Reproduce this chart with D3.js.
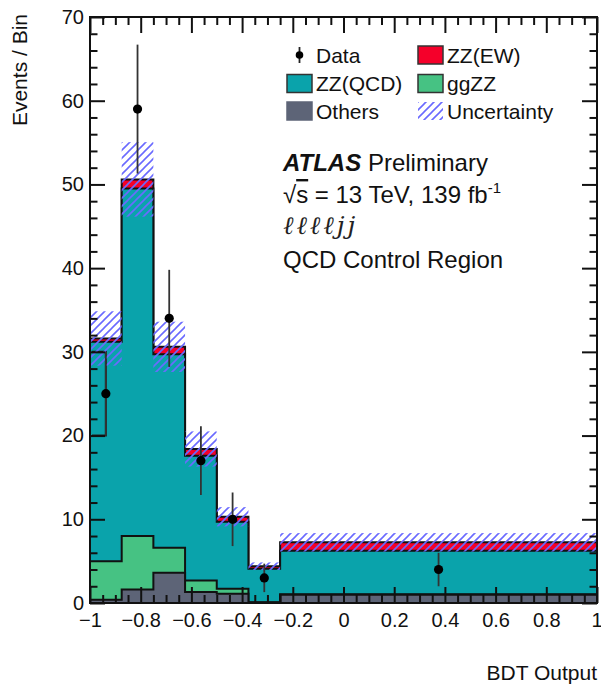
<!DOCTYPE html>
<html>
<head>
<meta charset="utf-8">
<script src="https://cdn.jsdelivr.net/npm/d3@7"></script>
<style>
  body { margin: 0; background: #fff; }
  svg { font-family: "Liberation Sans", Arial, Helvetica, sans-serif; }
</style>
</head>
<body>
<svg id="chart" width="601" height="684"></svg>
<script>
// bins of BDT output
const binEdges = [-1, -0.875, -0.75, -0.625, -0.5, -0.375, -0.25, 1];
// stacked backgrounds, bottom to top
const others = [0.4, 1.6, 3.6, 1.3, 1.1, 0.05, 1.0];
const ggZZ   = [4.6, 6.4, 3.0, 1.4, 0.6, 0.05, 0.05];
const zzQCD  = [26.2, 41.5, 23.1, 14.9, 8.0, 4.0, 5.2];
const zzEW   = [0.4, 1.1, 0.9, 0.8, 0.6, 0.3, 1.0];
// total uncertainty (half width)
const uncert = [3.25, 4.45, 3.0, 2.1, 1.15, 0.45, 1.1];
// data
const dataX   = [-0.9375, -0.8125, -0.6875, -0.5625, -0.4375, -0.3125, 0.375];
const dataY   = [25, 59, 34, 17, 10, 3, 4];
const dataErr = [5, 7.7, 5.8, 4.1, 3.2, 1.7, 2.0];
// odd outline left in the first bin
const firstBinOutline = [30, 20];

const xMajor = [-1, -0.8, -0.6, -0.4, -0.2, 0, 0.2, 0.4, 0.6, 0.8, 1];
const yMajor = [0, 10, 20, 30, 40, 50, 60, 70];

const colors = {
  others: "#5d6477",
  gg: "#46c283",
  qcd: "#0aa3ab",
  ew: "#f5002a",
  hatch: "#6a6aff"
};

var plot = {left: 90, right: 597, top: 17, bottom: 603};

var svg = d3.select("#chart");

var x = d3.scaleLinear().domain([-1, 1]).range([plot.left, plot.right]);
var y = d3.scaleLinear().domain([0, 70]).range([plot.bottom, plot.top]);

// hatch pattern
var defs = svg.append("defs");
defs.append("pattern")
  .attr("id", "hatch")
  .attr("patternUnits", "userSpaceOnUse")
  .attr("width", 8).attr("height", 8)
  .append("path")
  .attr("d", "M-2,2 L2,-2 M0,8 L8,0 M6,10 L10,6")
  .attr("stroke", colors.hatch)
  .attr("stroke-width", 1.6);

// cumulative stacks
var cumOthers = others.map(d => d);
var cumGG = others.map((d, i) => d + ggZZ[i]);
var cumQCD = cumGG.map((d, i) => d + zzQCD[i]);
var cumTotal = cumQCD.map((d, i) => d + zzEW[i]);

function stepPoints(vals) {
  var pts = vals.map((v, i) => [binEdges[i], v]);
  pts.push([binEdges[binEdges.length - 1], vals[vals.length - 1]]);
  return pts;
}

var area = d3.area()
  .x(d => x(d[0]))
  .y0(y(0))
  .y1(d => y(d[1]))
  .curve(d3.curveStepAfter);

var line = d3.line()
  .x(d => x(d[0]))
  .y(d => y(d[1]))
  .curve(d3.curveStepAfter);

var layers = [
  {vals: cumTotal, fill: colors.ew},
  {vals: cumQCD, fill: colors.qcd},
  {vals: cumGG, fill: colors.gg},
  {vals: cumOthers, fill: colors.others}
];

layers.forEach(function(l) {
  svg.append("path")
    .datum(stepPoints(l.vals))
    .attr("d", area)
    .attr("fill", l.fill);
  svg.append("path")
    .datum(stepPoints(l.vals))
    .attr("d", line)
    .attr("fill", "none")
    .attr("stroke", "#111")
    .attr("stroke-width", 2);
});

// first-bin outline
svg.append("path")
  .attr("d", "M" + (x(binEdges[0]) + 2) + "," + y(firstBinOutline[0]) +
             "H" + x(dataX[0]) + "V" + y(firstBinOutline[1]) +
             "H" + (x(binEdges[0]) + 2))
  .attr("fill", "none")
  .attr("stroke", "#222")
  .attr("stroke-width", 2);

// uncertainty band
svg.selectAll("rect.unc")
  .data(cumTotal)
  .enter()
  .append("rect")
  .attr("class", "unc")
  .attr("x", (d, i) => x(binEdges[i]))
  .attr("width", (d, i) => x(binEdges[i + 1]) - x(binEdges[i]))
  .attr("y", (d, i) => y(d + uncert[i]))
  .attr("height", (d, i) => y(d - uncert[i]) - y(d + uncert[i]))
  .attr("fill", "url(#hatch)");

// axes: ticks pointing inward
function addAxis(axis, transform) {
  var g = svg.append("g").attr("transform", transform).call(axis);
  g.select(".domain").remove();
  g.selectAll(".tick line").attr("stroke", "#111").attr("stroke-width", 2);
  g.selectAll("text")
    .attr("fill", "#111")
    .style("font-size", "20px")
    .style("font-family", "'Liberation Sans', Arial, sans-serif");
  return g;
}

var xMinor = d3.range(-1, 1.0001, 0.05).filter(v => xMajor.every(m => Math.abs(m - v) > 1e-6));
var yMinor = d3.range(0, 70.0001, 2).filter(v => v % 10 !== 0);

var xLab = addAxis(d3.axisBottom(x).tickValues(xMajor).tickSize(-16).tickPadding(10)
  .tickFormat(d => (d < 0 ? "\u2212" : "") + String(Math.abs(d))), "translate(0," + plot.bottom + ")");
// keep the last label inside the page
xLab.selectAll(".tick text").filter(d => d === 1).attr("text-anchor", "end").attr("x", 5);
addAxis(d3.axisBottom(x).tickValues(xMinor).tickSize(-8).tickFormat(""), "translate(0," + plot.bottom + ")");
addAxis(d3.axisTop(x).tickValues(xMajor).tickSize(-16).tickFormat(""), "translate(0," + plot.top + ")");
addAxis(d3.axisTop(x).tickValues(xMinor).tickSize(-8).tickFormat(""), "translate(0," + plot.top + ")");

addAxis(d3.axisLeft(y).tickValues(yMajor).tickSize(-15).tickPadding(6), "translate(" + plot.left + ",0)");
addAxis(d3.axisLeft(y).tickValues(yMinor).tickSize(-7.5).tickFormat(""), "translate(" + plot.left + ",0)");
addAxis(d3.axisRight(y).tickValues(yMajor).tickSize(-15).tickFormat(""), "translate(" + plot.right + ",0)");
addAxis(d3.axisRight(y).tickValues(yMinor).tickSize(-7.5).tickFormat(""), "translate(" + plot.right + ",0)");

// frame
svg.append("rect")
  .attr("x", plot.left).attr("y", plot.top)
  .attr("width", plot.right - plot.left).attr("height", plot.bottom - plot.top)
  .attr("fill", "none")
  .attr("stroke", "#111")
  .attr("stroke-width", 2);

// data
svg.selectAll("line.err")
  .data(dataY)
  .enter()
  .append("line")
  .attr("x1", (d, i) => x(dataX[i]))
  .attr("x2", (d, i) => x(dataX[i]))
  .attr("y1", (d, i) => y(d - dataErr[i]))
  .attr("y2", (d, i) => y(d + dataErr[i]))
  .attr("stroke", "#333")
  .attr("stroke-width", 1.8);

svg.selectAll("circle.pt")
  .data(dataY)
  .enter()
  .append("circle")
  .attr("cx", (d, i) => x(dataX[i]))
  .attr("cy", d => y(d))
  .attr("r", 4.6)
  .attr("fill", "#000");

// axis titles
svg.append("text")
  .attr("x", 597).attr("y", 680)
  .attr("text-anchor", "end")
  .style("font-size", "21px")
  .attr("fill", "#111")
  .text("BDT Output");

svg.append("text")
  .attr("transform", "translate(27,14) rotate(-90)")
  .attr("text-anchor", "end")
  .style("font-size", "21px")
  .attr("fill", "#111")
  .text("Events / Bin");

// legend
var legendRows = [55, 83.5, 111];
var legend = [
  {col: 0, row: 0, label: "Data", type: "data"},
  {col: 1, row: 0, label: "ZZ(EW)", type: "box", fill: colors.ew},
  {col: 0, row: 1, label: "ZZ(QCD)", type: "box", fill: colors.qcd},
  {col: 1, row: 1, label: "ggZZ", type: "box", fill: colors.gg},
  {col: 0, row: 2, label: "Others", type: "box", fill: colors.others},
  {col: 1, row: 2, label: "Uncertainty", type: "hatch"}
];
var boxX = [287, 418], textX = [316, 447];

legend.forEach(function(e) {
  var cy = legendRows[e.row];
  var bx = boxX[e.col];
  if (e.type === "data") {
    svg.append("line")
      .attr("x1", bx + 12.5).attr("x2", bx + 12.5)
      .attr("y1", cy - 8).attr("y2", cy + 8)
      .attr("stroke", "#222").attr("stroke-width", 1.8);
    svg.append("circle")
      .attr("cx", bx + 12.5).attr("cy", cy).attr("r", 3.8).attr("fill", "#000");
  } else if (e.type === "box") {
    svg.append("rect")
      .attr("x", bx).attr("y", cy - 9).attr("width", 25).attr("height", 18)
      .attr("fill", e.fill)
      .attr("stroke", e.fill === colors.others ? e.fill : "#333")
      .attr("stroke-width", 1.5);
  } else {
    svg.append("rect")
      .attr("x", bx).attr("y", cy - 9).attr("width", 25).attr("height", 18)
      .attr("fill", "url(#hatch)");
  }
  svg.append("text")
    .attr("x", textX[e.col]).attr("y", cy)
    .attr("dy", "0.36em")
    .style("font-size", "21px")
    .attr("fill", "#111")
    .text(e.label);
});

// ATLAS label block
var t1 = svg.append("text").attr("x", 283).attr("y", 171)
  .style("font-size", "24px").attr("fill", "#111");
t1.append("tspan").style("font-weight", "bold").style("font-style", "italic").text("ATLAS");
t1.append("tspan").text(" Preliminary");

var t2 = svg.append("text").attr("x", 283).attr("y", 203)
  .style("font-size", "24px").attr("fill", "#111");
t2.append("tspan").text("\u221A");
t2.append("tspan").style("text-decoration", "overline").text("s");
t2.append("tspan").text(" = 13 TeV, 139 fb");
t2.append("tspan").attr("dy", -10).style("font-size", "15px").text("-1");

svg.append("text").attr("x", 283).attr("y", 234)
  .style("font-size", "25px")
  .style("font-style", "italic")
  .style("letter-spacing", "3px")
  .style("font-family", "'DejaVu Serif', 'Liberation Serif', serif")
  .attr("fill", "#222")
  .text("\u2113\u2113\u2113\u2113jj");

svg.append("text").attr("x", 283).attr("y", 268)
  .style("font-size", "24px").attr("fill", "#111")
  .text("QCD Control Region");
</script>
</body>
</html>
